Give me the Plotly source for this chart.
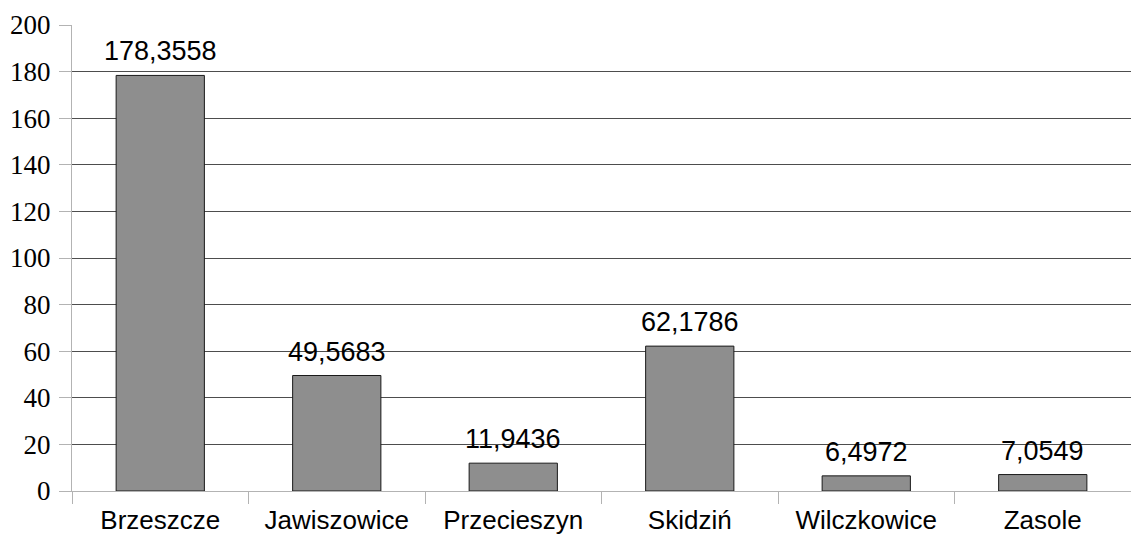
import plotly.graph_objects as go

categories = ["Brzeszcze", "Jawiszowice", "Przecieszyn", "Skidziń", "Wilczkowice", "Zasole"]
values = [178.3558, 49.5683, 11.9436, 62.1786, 6.4972, 7.0549]
y_ticks = [0, 20, 40, 60, 80, 100, 120, 140, 160, 180, 200]

fig = go.Figure()
fig.add_trace(go.Bar(
    x=categories, y=values,
    marker=dict(color="#8e8e8e", line=dict(color="#1a1a1a", width=1)),
    textposition="none",
    hoverinfo="skip",
))

for c, v in zip(categories, values):
    fig.add_annotation(
        x=c, y=v, text=f"{v:.4f}".replace(".", ","),
        showarrow=False, yanchor="bottom", yshift=7,
        font=dict(family="Liberation Sans", size=27, color="black"),
    )

fig.update_layout(
    width=1131, height=539,
    margin=dict(l=72, r=0, t=25, b=48),
    plot_bgcolor="white", paper_bgcolor="white",
    bargap=0.5, showlegend=False, separators=", ",
    xaxis=dict(
        type="category", tickson="boundaries", ticks="outside", ticklen=12,
        tickcolor="#b3b3b3", tickwidth=1,
        showline=True, linecolor="#b3b3b3", linewidth=1,
        showgrid=False, automargin=False, ticklabelstandoff=6,
        tickfont=dict(family="Liberation Sans", size=26, color="black"),
    ),
    yaxis=dict(
        range=[0, 200], tickvals=y_ticks, ticks="outside", ticklen=12,
        tickcolor="#b3b3b3", tickwidth=1,
        showline=True, linecolor="#b3b3b3", linewidth=1,
        showgrid=True, gridcolor="#4d4d4d", gridwidth=1,
        zeroline=False, automargin=False, ticklabelstandoff=3,
        tickfont=dict(family="Liberation Serif", size=27, color="black"),
    ),
)

fig.write_html(
    "out.html",
    config={"displayModeBar": False, "staticPlot": True},
    post_script="document.body.style.margin='0px';document.body.style.overflow='hidden';",
)
